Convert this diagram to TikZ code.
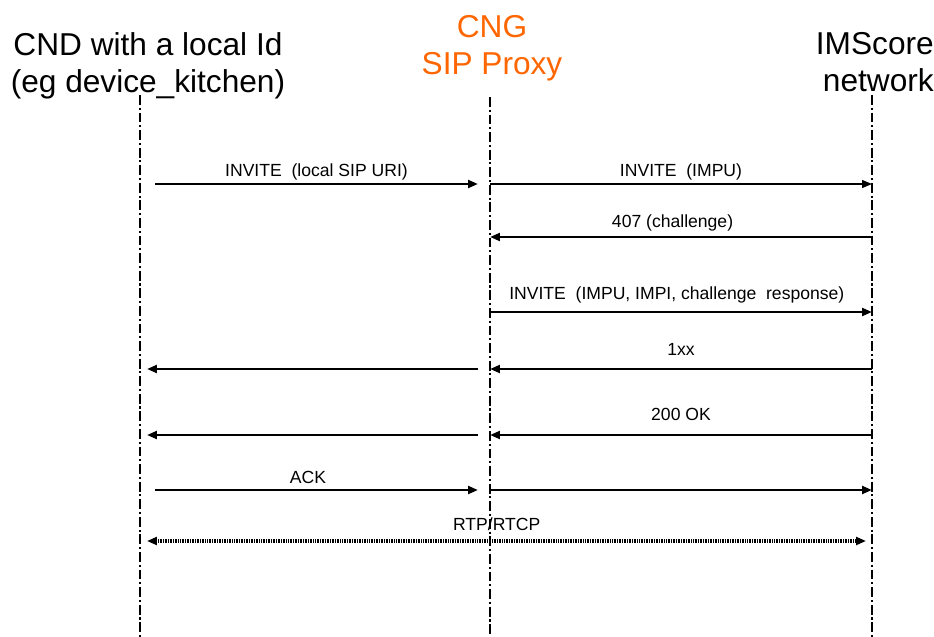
\documentclass[tikz,border=0pt]{standalone}
\usepackage{fontspec}
\setmainfont{Liberation Sans}
\usetikzlibrary{arrows.meta}
\definecolor{cngorange}{RGB}{255,102,0}

\tikzset{
	lifeline/.style = {line width=1.6pt, dash pattern=on 7pt off 2pt on 1.5pt off 2pt},
	msg/.style = {line width=1.8pt, -{Triangle[length=7pt,width=5.5pt]}},
	thinmsg/.style = {msg, line width=1.2pt},
	media/.style = {line width=2.4pt, dash pattern=on .7pt off .5pt,
		{Triangle[length=7pt,width=5.5pt]}-{Triangle[length=7pt,width=5.5pt]}},
	lbl/.style = {font=\fontsize{12.5}{14}\selectfont, inner sep=0pt},
	head/.style = {font=\fontsize{22.5}{26.5}\selectfont, inner sep=0pt}
}

\begin{document}
\begin{tikzpicture}[x=0.025cm, y=-0.025cm]
	\useasboundingbox (0,0) rectangle (934,637);
	% headings
	\node[head, align=center, anchor=north] (cnd) at (148,32) {CND with a local Id\\(eg device\_kitchen)};
	\node[head, align=center, anchor=north, text=cngorange] (cng) at (492,15) {CNG\\SIP Proxy};
	\node[head, align=right, anchor=north east] (ims) at (934,32) {IMScore\\network};
	% lifelines
	\coordinate (cndtop) at (140,95);  \coordinate (cndbot) at (140,637);
	\coordinate (cngtop) at (490,97);  \coordinate (cngbot) at (490,637);
	\coordinate (imstop) at (872,95);  \coordinate (imsbot) at (872,637);
	\draw[lifeline] (cndtop) -- (cndbot);
	\draw[lifeline] (cngtop) -- (cngbot);
	\draw[lifeline] (imstop) -- (imsbot);
	% messages
	\coordinate (inv1a) at (155,184);  \coordinate (inv1b) at (478,184);
	\coordinate (inv2a) at (490,184);  \coordinate (inv2b) at (872,184);
	\coordinate (chala) at (872,237);  \coordinate (chalb) at (490,237);
	\coordinate (inv3a) at (490,312);  \coordinate (inv3b) at (872,312);
	\coordinate (provr) at (872,369);  \coordinate (provm) at (490,369);
	\coordinate (provn) at (478,369);  \coordinate (provl) at (147,369);
	\coordinate (okr) at (872,435);    \coordinate (okm) at (490,435);
	\coordinate (okn) at (478,435);    \coordinate (okl) at (147,435);
	\coordinate (acka) at (155,490);   \coordinate (ackb) at (478,490);
	\coordinate (ackc) at (490,490);   \coordinate (ackd) at (872,490);
	\coordinate (rtpl) at (147,541);   \coordinate (rtpr) at (866,541);

	\draw[msg] (inv1a) -- node[lbl, above=1.5pt] (inv1lbl) {INVITE\ \ (local SIP URI)} (inv1b);
	\draw[thinmsg] (inv2a) -- node[lbl, above=2.5pt] (inv2lbl) {INVITE\ \ (IMPU)} (inv2b);
	\draw[msg] (chala) -- node[lbl, above=3pt, xshift=-6pt] (challbl) {407 (challenge)} (chalb);
	\draw[msg] (inv3a) -- node[lbl, above=5.5pt, xshift=-3pt] (inv3lbl) {INVITE\ \ (IMPU, IMPI, challenge\ \ response)} (inv3b);
	\draw[msg] (provr) -- node[lbl, above=9pt] (provlbl) {1xx} (provm);
	\draw[msg] (provn) -- (provl);
	\draw[msg] (okr) -- node[lbl, above=9pt] (oklbl) {200 OK} (okm);
	\draw[msg] (okn) -- (okl);
	\draw[msg] (acka) -- node[lbl, above=3.5pt, xshift=-6pt] (acklbl) {ACK} (ackb);
	\draw[msg] (ackc) -- (ackd);
	\draw[media] (rtpl) -- node[lbl, above=6.5pt, xshift=-7pt] (rtplbl) {RTP/RTCP} (rtpr);
\end{tikzpicture}
\end{document}
